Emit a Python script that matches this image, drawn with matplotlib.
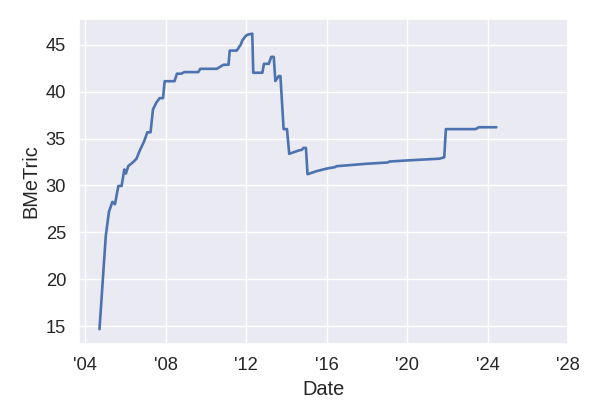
import pandas as pd
import matplotlib
matplotlib.use('Agg')
import matplotlib.pyplot as plt
import matplotlib.dates as mdates
import seaborn as sns

dates = ['2004-09-16', '2005-01-08', '2005-03-07', '2005-05-08', '2005-06-24',
         '2005-08-25', '2005-10-23', '2005-12-10', '2006-01-08', '2006-02-20',
         '2006-05-18', '2006-07-19', '2006-09-16', '2006-12-05', '2007-02-02',
         '2007-04-01', '2007-05-15', '2007-07-16', '2007-09-13', '2007-11-14',
         '2007-12-13', '2008-06-09', '2008-07-23', '2008-10-08', '2008-12-05',
         '2009-08-14', '2009-09-20', '2010-07-16', '2010-11-14', '2011-02-14',
         '2011-03-08', '2011-07-13', '2011-09-24', '2011-10-23', '2011-12-20',
         '2012-01-25', '2012-04-20', '2012-05-08', '2012-10-20', '2012-11-18',
         '2013-02-14', '2013-03-30', '2013-05-15', '2013-06-13', '2013-08-14',
         '2013-09-13', '2013-11-10', '2014-01-10', '2014-02-20', '2014-05-12',
         '2014-08-08', '2014-10-08', '2014-11-06', '2014-12-20', '2015-01-18',
         '2015-07-05', '2016-01-01', '2016-05-30', '2016-06-28', '2017-12-20',
         '2019-01-15', '2019-02-14', '2020-04-08', '2021-08-05', '2021-11-03',
         '2021-12-03', '2023-05-26', '2023-07-24', '2024-06-07']
bmetric = [14.7, 24.6, 27.2, 28.25, 28.0,
           29.95, 29.95, 31.7, 31.26, 32.06,
           32.48, 32.84, 33.7, 34.7, 35.66,
           35.66, 38.1, 38.83, 39.3, 39.3,
           41.1, 41.1, 41.9, 41.9, 42.07,
           42.07, 42.42, 42.42, 42.85, 42.85,
           44.36, 44.36, 45.0, 45.45, 45.9,
           46.05, 46.16, 42.0, 42.0, 42.95,
           42.95, 43.69, 43.69, 41.12, 41.65,
           41.65, 36.0, 36.0, 33.37, 33.54,
           33.72, 33.8, 34.0, 34.0, 31.2,
           31.53, 31.8, 31.95, 32.05, 32.31,
           32.45, 32.55, 32.7, 32.85, 33.0,
           36.0, 36.0, 36.2, 36.2]

df = pd.DataFrame({'Date': pd.to_datetime(dates), 'BMeTric': bmetric})

sns.set_theme(style='darkgrid', font_scale=1.2)
plt.rcParams['font.family'] = ['Liberation Sans', 'DejaVu Sans']

fig, ax = plt.subplots(figsize=(6, 4.2), dpi=100)
ax.plot(df['Date'], df['BMeTric'], color='#4c72b0', linewidth=1.9)

ax.set_xlim(pd.Timestamp('2003-09-14'), pd.Timestamp('2028-01-01'))
ax.xaxis.set_major_locator(mdates.YearLocator(4))
ax.xaxis.set_major_formatter(mdates.DateFormatter("'%y"))
ax.set_xlabel('Date')
ax.set_ylabel('BMeTric')

fig.subplots_adjust(left=0.132, right=0.947, top=0.955, bottom=0.181)
fig.savefig('out.png')
